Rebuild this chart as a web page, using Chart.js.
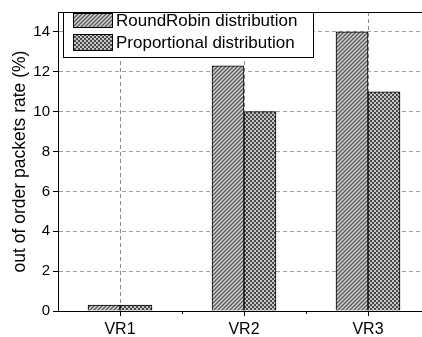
<!DOCTYPE html>
<html>
<head>
<meta charset="utf-8">
<script src="https://cdn.jsdelivr.net/npm/chart.js@4"></script>
<style>
  html, body { margin: 0; padding: 0; overflow: hidden; background: #fff; }
  #wrap { width: 432px; height: 337px; }
</style>
</head>
<body>
<div id="wrap"><canvas id="outOfOrderChart"></canvas></div>
<script>
// chart data
const categories = ["VR1", "VR2", "VR3"];
const roundRobin = [0.3, 12.3, 14.0];
const proportional = [0.3, 10.0, 11.0];
const seriesNames = ["RoundRobin distribution", "Proportional distribution"];

const FONT = "'Liberation Sans', Arial, sans-serif";

// diagonal hatch fill
function makeHatch() {
    const c = document.createElement("canvas");
    c.width = 4; c.height = 4;
    const g = c.getContext("2d");
    g.fillStyle = "#d0d0d0";
    g.fillRect(0, 0, 4, 4);
    g.strokeStyle = "#5a5a5a";
    g.lineWidth = 1.3;
    g.beginPath();
    g.moveTo(-1, 5); g.lineTo(5, -1);
    g.moveTo(-1, 1); g.lineTo(1, -1);
    g.moveTo(3, 5); g.lineTo(5, 3);
    g.stroke();
    return g.createPattern(c, "repeat");
}

// checker / crosshatch fill
function makeCross() {
    const c = document.createElement("canvas");
    c.width = 4; c.height = 4;
    const g = c.getContext("2d");
    g.fillStyle = "#4a4a4a";
    g.fillRect(0, 0, 4, 4);
    g.fillStyle = "#c4c4c4";
    g.fillRect(0, 0, 2, 2);
    g.fillRect(2, 2, 2, 2);
    return g.createPattern(c, "repeat");
}

const hatch = makeHatch();
const cross = makeCross();
const fills = [hatch, cross];

// frame, minor x ticks and legend box
const framePlugin = {
    id: "frame",
    afterDraw(chart) {
        const ctx = chart.ctx;
        const a = chart.chartArea;
        const xs = chart.scales.x;
        ctx.save();
        ctx.strokeStyle = "#000";
        ctx.lineWidth = 1;
        ctx.strokeRect(a.left + 0.5, a.top + 0.5, a.right - a.left, a.bottom - a.top);

        // minor ticks between categories
        for (let i = 0; i < categories.length - 1; i++) {
            const x = Math.round((xs.getPixelForValue(i) + xs.getPixelForValue(i + 1)) / 2) + 0.5;
            ctx.beginPath();
            ctx.moveTo(x, a.bottom);
            ctx.lineTo(x, a.bottom + 3);
            ctx.stroke();
        }

        // legend
        const lx = 63.5, ly = a.top + 0.5, lw = 250, lh = 45;
        ctx.fillStyle = "#fff";
        ctx.fillRect(lx, ly, lw, lh);
        ctx.strokeRect(lx, ly, lw, lh);
        ctx.font = "17px " + FONT;
        ctx.textBaseline = "middle";
        chart.data.datasets.forEach((ds, i) => {
            const sy = [13, 34][i];
            const sh = [14, 16][i];
            ctx.fillStyle = fills[i];
            ctx.fillRect(73, sy, 39, sh);
            ctx.strokeStyle = "#000";
            ctx.strokeRect(73.5, sy + 0.5, 39, sh);
            ctx.fillStyle = "#000";
            ctx.fillText(ds.label, 116, sy + sh / 2 + 1);
        });
        ctx.restore();
    }
};

const ctxChart = document.getElementById("outOfOrderChart");
const chart = new Chart(ctxChart, {
    type: "bar",
    data: {
        labels: categories,
        datasets: [{
            label: seriesNames[0],
            data: roundRobin,
            backgroundColor: hatch,
            borderColor: "#000",
            borderWidth: 1,
            barThickness: 32
        }, {
            label: seriesNames[1],
            data: proportional,
            backgroundColor: cross,
            borderColor: "#000",
            borderWidth: 1,
            barThickness: 32
        }]
    },
    options: {
        responsive: true,
        maintainAspectRatio: false,
        animation: false,
        layout: { padding: { top: 8, right: 2, left: 0, bottom: 0 } },
        plugins: {
            legend: { display: false },
            tooltip: { enabled: false }
        },
        scales: {
            x: {
                grid: {
                    offset: false,
                    color: "#8a8a8a",
                    lineWidth: 1,
                    tickColor: "#000",
                    tickLength: 5
                },
                border: { color: "#000", dash: [4, 3] },
                ticks: {
                    color: "#000",
                    padding: 4,
                    font: { family: FONT, size: 16 }
                },
                afterFit(scale) { scale.height = 26; }
            },
            y: {
                min: 0,
                max: 15,
                grid: {
                    color: (c) => (c.tick && c.tick.value % 2 === 0 && c.tick.value > 0) ? "#a0a0a0" : "transparent",
                    tickColor: "#000",
                    tickLength: 5
                },
                border: { color: "#000", dash: [4, 3] },
                ticks: {
                    stepSize: 1,
                    color: "#000",
                    padding: 3,
                    font: { family: FONT, size: 15 },
                    callback: (v) => (v % 2 === 0 ? v : "")
                },
                title: {
                    display: true,
                    text: "out of order packets rate (%)",
                    color: "#000",
                    padding: { top: 10, bottom: 0 },
                    font: { family: FONT, size: 17.5 }
                },
                afterFit(scale) { scale.width = 58; }
            }
        }
    },
    plugins: [framePlugin]
});
</script>
</body>
</html>
